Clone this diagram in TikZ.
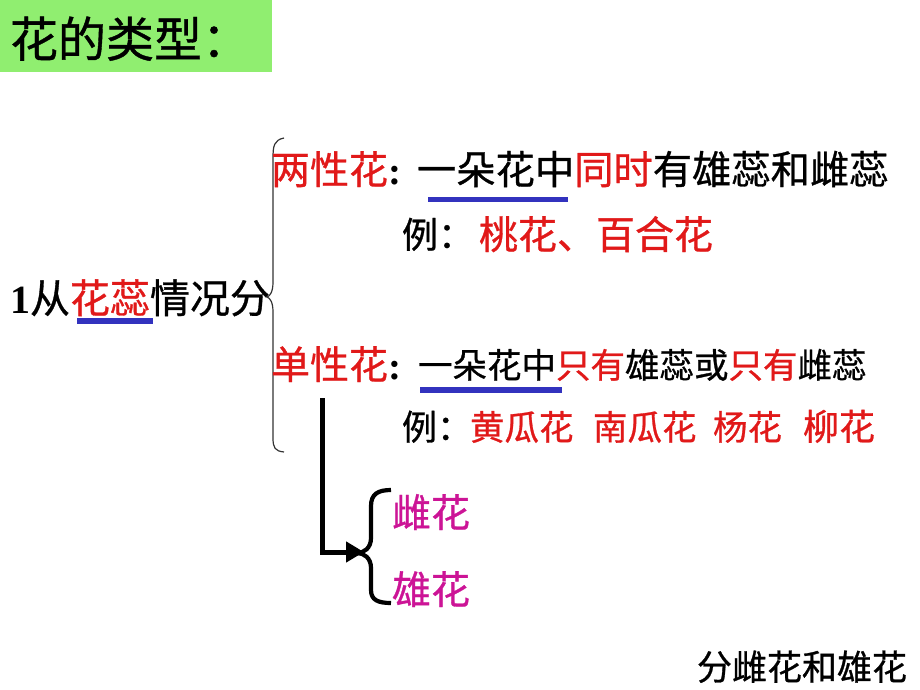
\documentclass[tikz,border=0pt]{standalone}
\usepackage{fontspec}
\setmainfont{Liberation Serif}
\newfontfamily\cjk[FakeBold=0.8]{Noto Sans CJK SC}
\usetikzlibrary{arrows.meta}
\definecolor{tred}{RGB}{225,25,25}
\definecolor{tblue}{RGB}{50,50,190}
\definecolor{tmag}{RGB}{204,20,150}
\definecolor{tgreen}{RGB}{144,238,112}
\newcommand\fsz[1]{\fontsize{#1}{#1}\selectfont}
\tikzset{
  txt/.style={anchor=base west, inner sep=0pt, outer sep=0pt, font=\cjk},
  uline/.style={draw=tblue, line width=5.5pt},
  thinbrace/.style={draw=black!80, line width=1.2pt},
  thickline/.style={draw=black, line width=5pt},
}
\begin{document}
\begin{tikzpicture}[x=1pt,y=-1pt]
\fill[white] (0,0) rectangle (920,690);
\useasboundingbox (0,0) rectangle (920,690);
% title
\fill[tgreen] (0,0) rectangle (272,72);
\node[txt, font=\cjk\fsz{48}] (title) at (10,57) {花的类型：};
% left label
\node[txt, font=\fsz{40}] (one) at (10,313) {\bfseries 1};
\node[txt, font=\cjk\fsz{40}] (lab) at (one.base east) {从\textcolor{tred}{花蕊}情况分};
\coordinate (u0a) at (77,321); \coordinate (u0b) at (153,321);
\draw[uline] (u0a) -- (u0b);
% thin brace
\coordinate (bt) at (284,138); \coordinate (bm) at (267,297); \coordinate (bb) at (284,452);
\draw[thinbrace] (bt) .. controls (274,140) and (273,146) .. (273,158)
  -- (273,282) .. controls (273,292) and (270,296) .. (bm)
  .. controls (270,298) and (273,302) .. (273,312)
  -- (273,438) .. controls (273,448) and (275,451) .. (bb);
% line 1
\node[txt, font=\cjk\fsz{39}] (t1) at (271,184) {\textcolor{tred}{两性花}{\rmfamily\bfseries\color{black}:}};
\node[txt, font=\cjk\fsz{39.3}] (d1) at (417,184) {一朵花中\textcolor{tred}{同时}有雄蕊和雌蕊};
\coordinate (u1a) at (428,199.5); \coordinate (u1b) at (568,199.5);
\draw[uline] (u1a) -- (u1b);
\node[txt, font=\cjk\fsz{36}] (e1) at (402,248) {例：};
\node[txt, font=\cjk\fsz{39}, text=tred] (e1r) at (479,249) {桃花、百合花};
% line 2
\node[txt, font=\cjk\fsz{39}] (t2) at (271,379) {\textcolor{tred}{单性花}{\rmfamily\bfseries\color{black}:}};
\node[txt, font=\cjk\fsz{34.5}] (d2) at (418,378) {一朵花中\textcolor{tred}{只有}雄蕊或\textcolor{tred}{只有}雌蕊};
\coordinate (u2a) at (420,390); \coordinate (u2b) at (562,390);
\draw[uline] (u2a) -- (u2b);
\node[txt, font=\cjk\fsz{35}] (e2) at (402,440) {例：};
\node[txt, font=\cjk\fsz{34.5}, text=tred] (e2a) at (470,440) {黄瓜花};
\node[txt, font=\cjk\fsz{34.5}, text=tred] (e2b) at (593,440) {南瓜花};
\node[txt, font=\cjk\fsz{34.5}, text=tred] (e2c) at (713,440) {杨花};
\node[txt, font=\cjk\fsz{36}, text=tred] (e2d) at (803,440) {柳花};
% arrow and thick brace
\coordinate (a0) at (322,398);
\coordinate (a1) at (322,552);
\coordinate (a2) at (364,552);
\draw[thickline, -{Triangle[length=18pt,width=20pt]}] (a0) -- (a1) -- (a2);
\coordinate (tb1) at (391,490); \coordinate (tbm) at (357,553); \coordinate (tb2) at (391,603);
\draw[thickline, line width=4.2pt] (tb1) .. controls (378,490) and (371,494) .. (371,506)
  -- (371,538) .. controls (371,548) and (364,553) .. (tbm)
  .. controls (364,553) and (371,558) .. (371,568)
  -- (371,590) .. controls (371,600) and (378,603) .. (tb2);
\node[txt, font=\cjk\fsz{39}, text=tmag] (f1) at (392,527) {雌花};
\node[txt, font=\cjk\fsz{39}, text=tmag] (f2) at (392,604) {雄花};
% bottom note
\node[txt, font=\cjk\fsz{35}] (note) at (697,680) {分雌花和雄花};
\end{tikzpicture}
\end{document}
